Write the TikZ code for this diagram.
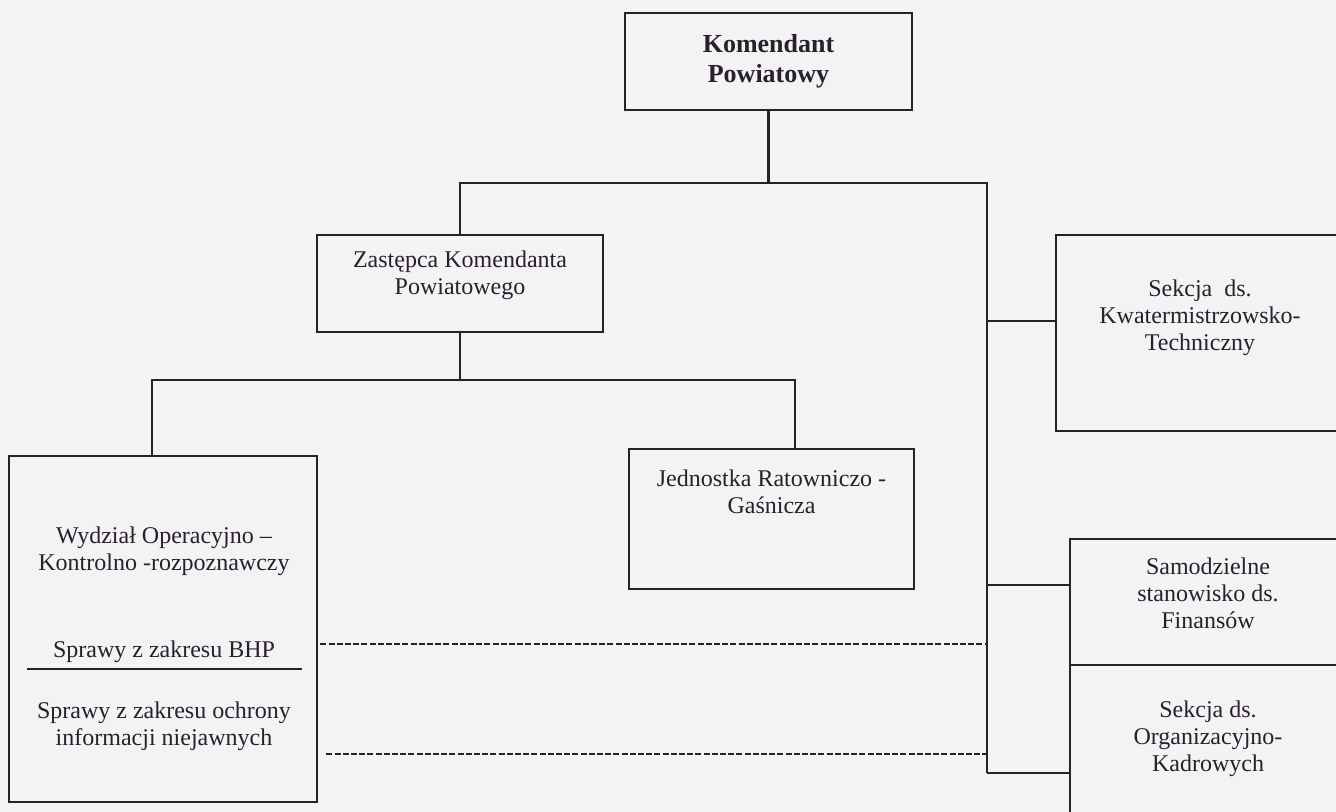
\documentclass[tikz,border=0pt]{standalone}
\usepackage{fontspec}
\setmainfont{Liberation Serif}
\usepackage{xcolor}
\usepackage{tikz}
\usetikzlibrary{positioning, calc}
\definecolor{ink}{RGB}{42,32,40}
\definecolor{paper}{RGB}{243,243,246}
\tikzset{
        unit/.style={rectangle, draw=ink, line width=1.4pt, inner sep=0pt, align=center, text=ink},
        lbl/.style={align=center, text=ink, inner sep=0pt, font=\fontsize{12}{13.6}\selectfont},
        link/.style={draw=ink, line width=1.3pt},
        dashlink/.style={draw=ink, line width=1.2pt, dash pattern=on 3pt off 1.1pt},
    }
\begin{document}
\begin{tikzpicture}[x=0.5pt, y=-0.5pt]

        % === PAGE ===
        \fill[paper] (0,0) rectangle (1336,812);
        \useasboundingbox (0,0) rectangle (1336,812);
        \clip (0,0) rectangle (1336,812);

        % === COMMAND ===
        \node[unit, minimum width=143.5pt, minimum height=48.5pt, font=\bfseries\fontsize{13}{15}\selectfont] (kp) at (768.5,61.5) {Komendant\\Powiatowy};
        \node[unit, minimum width=143pt, minimum height=48.5pt] (zk) at (460,283.5) {};
        \node[lbl] (zkt) at (460,275) {Zastępca Komendanta\\Powiatowego};

        % === UNDER DEPUTY ===
        \node[unit, minimum width=154pt, minimum height=173pt] (wo) at (163,629) {};
        \node[lbl] (wot) at (164,551.5) {Wydział Operacyjno –\\Kontrolno -rozpoznawczy};
        \node[lbl] (bhp) at (164,652) {Sprawy z zakresu BHP};
        \node[lbl] (oin) at (164,726.5) {Sprawy z zakresu ochrony\\informacji niejawnych};
        \draw[link, line width=1.1pt] (27,669) -- (302,669);

        \node[unit, minimum width=142.5pt, minimum height=70pt] (jrg) at (771.5,519) {};
        \node[lbl] (jrgt) at (771.5,491.5) {Jednostka Ratowniczo -\\Gaśnicza};

        % === SECTIONS (right edge cut by the page) ===
        \node[unit, minimum width=147pt, minimum height=98pt] (kw) at (1203,333) {};
        \node[lbl] (kwt) at (1200,318) {Sekcja~ ds.\\Kwatermistrzowsko-\\Techniczny};
        \node[unit, minimum width=140pt, minimum height=63pt] (sf) at (1210,602) {};
        \node[lbl] (sft) at (1208,593) {Samodzielne\\stanowisko ds.\\Finansów};
        \node[unit, minimum width=140pt, minimum height=85pt] (ok) at (1210,750) {};
        \node[lbl] (okt) at (1208,739) {Sekcja ds.\\Organizacyjno-\\Kadrowych};

        % === CONNECTORS ===
        \coordinate (hubA) at (460,183);
        \coordinate (hubB) at (987,183);
        \coordinate (s1) at (987,321);
        \coordinate (s2) at (987,585);
        \coordinate (s3) at (987,773);
        \coordinate (hubC) at (152,380);
        \coordinate (hubD) at (795,380);
        \coordinate (d1) at (987,644);
        \coordinate (d2) at (987,754);

        \draw[link] (kp.south) -- (kp.south |- hubA);
        \draw[link] (zk.north) -- (hubA) -- (hubB) -- (s3);
        \draw[link] (s1) -- (s1 -| kw.west);
        \draw[link] (s2) -- (s2 -| sf.west);
        \draw[link] (s3) -- (s3 -| ok.west);

        \draw[link] (zk.south) -- (zk.south |- hubC);
        \draw[link] (wo.north -| hubC) -- (hubC) -- (hubD) -- (jrg.north -| hubD);

        \draw[dashlink] ([xshift=1pt]d1 -| wo.east) -- (d1);
        \draw[dashlink] ([xshift=4pt]d2 -| wo.east) -- (d2);

    \end{tikzpicture}
\end{document}
